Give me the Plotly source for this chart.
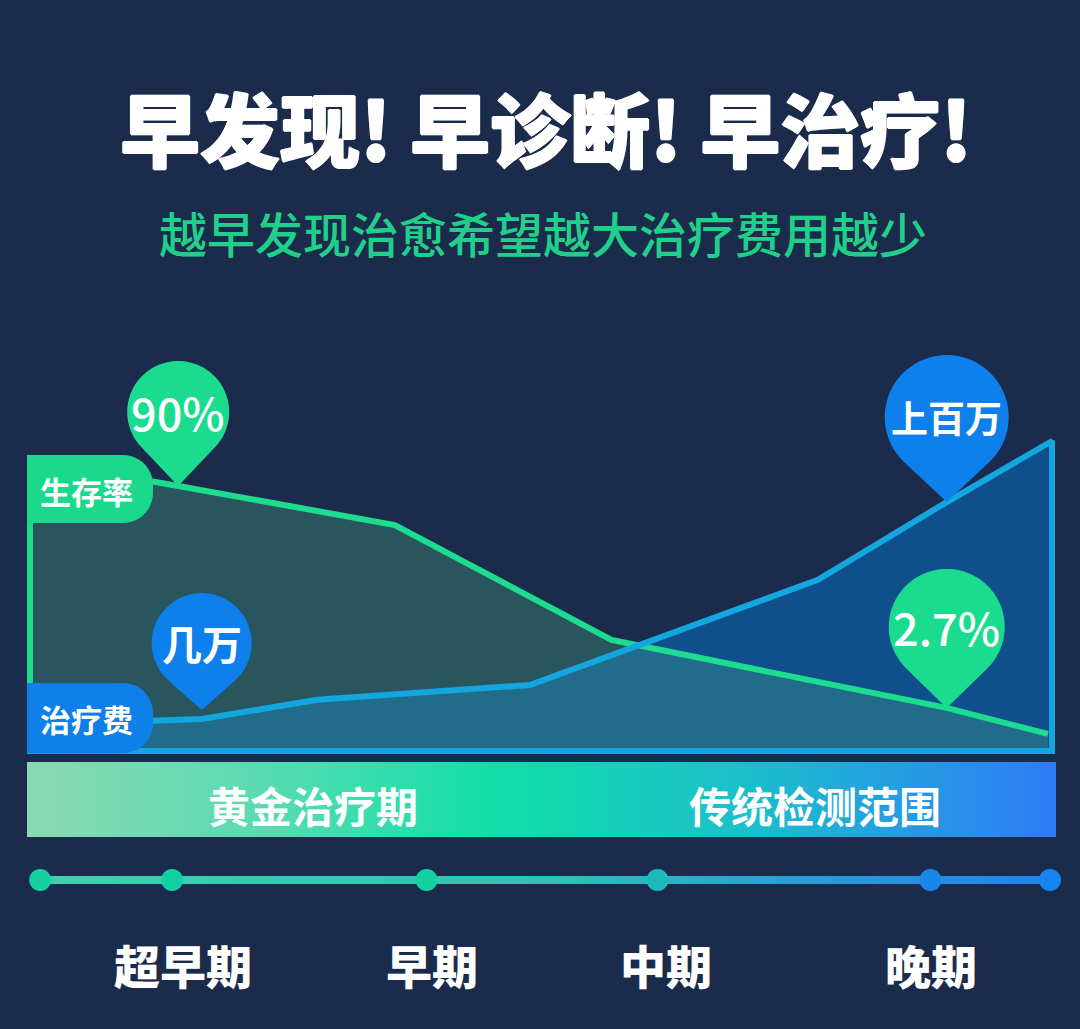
import numpy as np
import plotly.graph_objects as go

W, H = 1080, 1029
BG = "#1b2b4b"
FONT = "Noto Sans CJK SC, Noto Sans, sans-serif"

# ---------------- data (chart units) ----------------
title_text = "早发现! 早诊断! 早治疗!"
subtitle_text = "越早发现治愈希望越大治疗费用越少"

survival_label = "生存率"
survival_x = [0, 14.5, 35.7, 56.9, 89.7, 99.6]
survival_y = [93.9, 85.5, 72.9, 35.8, 13.9, 5.5]

cost_label = "治疗费"
cost_x = [0, 16.8, 28.1, 48.9, 77.1, 89.7, 100]
cost_y = [8.4, 10.3, 16.5, 21.3, 55.2, 80.3, 100]

callout_series = ["survival", "cost", "cost", "survival"]
callout_index = [1, 1, 5, 4]
callout_text = ["90%", "几万", "上百万", "2.7%"]

band_labels = ["黄金治疗期", "传统检测范围"]
band_label_x = [27.7, 76.8]

timeline_x = [1.0, 13.9, 38.8, 61.4, 88.1, 99.8]
stage_labels = ["超早期", "早期", "中期", "晚期"]
stage_label_x = [15.0, 39.3, 62.2, 88.2]

# ---------------- layout / style constants ----------------
X0_PX, PX_X = 30.0, 10.22   # x=0 at 30px, 10.22 px per unit
Y0_PX, PX_Y = 751.0, 3.1    # y=0 at 751px, 3.1 px per unit


def xd(px):
    return (px - X0_PX) / PX_X


def yd(py):
    return (Y0_PX - py) / PX_Y


def xpx(x):
    return X0_PX + x * PX_X


def ypx(y):
    return Y0_PX - y * PX_Y


def ppy(py):
    return 1 - py / H


GREEN_LINE = "#1ddc90"
BLUE_LINE = "#13a6df"
GREEN_PIN = "#1bdc8e"
BLUE_PIN = "#0e80eb"
HEAVY = "1px 0 0 white, -1px 0 0 white, 0 1px 0 white, 0 -1px 0 white"

fig = go.Figure()

# blue area fill
fig.add_trace(go.Scatter(
    x=cost_x + [cost_x[-1], cost_x[0]], y=cost_y + [0, 0],
    mode="lines", fill="toself", fillcolor="rgb(14,79,140)",
    line=dict(width=0, color="rgba(0,0,0,0)"), hoverinfo="skip", showlegend=False))
# green area fill
fig.add_trace(go.Scatter(
    x=survival_x + [survival_x[-1], survival_x[0]], y=survival_y + [0, 0],
    mode="lines", fill="toself", fillcolor="rgba(70,163,135,0.35)",
    line=dict(width=0, color="rgba(0,0,0,0)"), hoverinfo="skip", showlegend=False))
# green outline (incl. left edge)
fig.add_trace(go.Scatter(
    x=[survival_x[0]] + survival_x, y=[0] + survival_y,
    mode="lines", line=dict(width=6, color=GREEN_LINE),
    hoverinfo="skip", showlegend=False))
# blue outline (curve, right edge, baseline)
fig.add_trace(go.Scatter(
    x=cost_x + [cost_x[-1], cost_x[0] - 0.3], y=cost_y + [0, 0],
    mode="lines", line=dict(width=6, color=BLUE_LINE),
    hoverinfo="skip", showlegend=False))

# gradient band
nb = 240
bx = np.linspace(xd(27), xd(1056), nb + 1)
bz = np.tile(np.linspace(0, 1, nb), (2, 1))
fig.add_trace(go.Heatmap(
    x=bx, y=[yd(837), yd(800), yd(762)], z=bz, zsmooth="best",
    colorscale=[[0, "#8ad8b4"], [0.22, "#5adbb2"], [0.45, "#12dfa8"],
                [0.7, "#1bbfcc"], [1, "#2e7bf6"]],
    showscale=False, hoverinfo="skip"))

# timeline strip
tx = np.linspace(timeline_x[0], timeline_x[-1], nb + 1)
fig.add_trace(go.Heatmap(
    x=tx, y=[yd(884), yd(880), yd(876)], z=bz, zsmooth="best",
    colorscale=[[0, "#3fcfae"], [0.5, "#2ec3b4"], [0.75, "#2a9fd8"], [1, "#1f84ee"]],
    showscale=False, hoverinfo="skip"))
dot_colors = ["#14d0a0", "#14d0a0", "#16cfa2", "#1cb9bd", "#1a86ea", "#1685f2"]
fig.add_trace(go.Scatter(
    x=timeline_x, y=[yd(880)] * len(timeline_x), mode="markers",
    marker=dict(size=22, color=dot_colors, line=dict(width=0)),
    hoverinfo="skip", showlegend=False))

shapes = []
annotations = []


def add_text(x, y, text, size, weight="normal", color="white", xref="x", shadow=None):
    f = dict(family=FONT, size=size, color=color, weight=weight)
    if shadow:
        f["shadow"] = shadow
    annotations.append(dict(x=x, y=y, xref=xref, yref="paper", text=text, showarrow=False,
                            xanchor="center", yanchor="middle", font=f))


def path_from_px(points):
    s = "M " + " L ".join(f"{xd(px):.4f},{yd(py):.4f}" for px, py in points) + " Z"
    return s


def pill(top, bottom, left=27, right=153, rad=30, color="#000"):
    pts = [(left, top), (right - rad, top)]
    for a in np.linspace(-np.pi / 2, 0, 12):
        pts.append((right - rad + rad * np.cos(a), top + rad + rad * np.sin(a)))
    for a in np.linspace(0, np.pi / 2, 12):
        pts.append((right - rad + rad * np.cos(a), bottom - rad + rad * np.sin(a)))
    pts.append((left, bottom))
    shapes.append(dict(type="path", path=path_from_px(pts), fillcolor=color,
                       line=dict(width=0), layer="above"))


pill(455, 523, color="#1bd98c")
pill(683, 753, color="#0f80ea")
add_text(xd(86), ppy(490), survival_label, 31, "bold")
add_text(xd(86), ppy(718), cost_label, 31, "bold")

# callout pins
pin_r = [51, 50, 62, 58]
pin_d = [74, 67, 85, 81]
pin_lift = [0, 9, 0, 0]
pin_font = [45, 40, 37, 45]
pin_weight = [500, "bold", "bold", 500]
for k in range(len(callout_text)):
    if callout_series[k] == "survival":
        X, Y, col = survival_x[callout_index[k]], survival_y[callout_index[k]], GREEN_PIN
    else:
        X, Y, col = cost_x[callout_index[k]], cost_y[callout_index[k]], BLUE_PIN
    tipx, tipy = xpx(X), ypx(Y) - pin_lift[k]
    r, d = pin_r[k], pin_d[k]
    cx, cy = tipx, tipy - d
    phi = np.arccos(r / d)
    pts = [(tipx, tipy)]
    for th in np.linspace(phi, 2 * np.pi - phi, 60):
        pts.append((cx + r * np.sin(th), cy + r * np.cos(th)))
    shapes.append(dict(type="path", path=path_from_px(pts), fillcolor=col,
                       line=dict(width=0), layer="above"))
    add_text(xd(cx), ppy(cy), callout_text[k], pin_font[k], pin_weight[k])

# title / subtitle
add_text(546 / W, ppy(126), title_text, 80, 900, xref="paper", shadow=HEAVY)
add_text(543 / W, ppy(232), subtitle_text, 48, 500, color="#20d08a", xref="paper")

for lab, x in zip(band_labels, band_label_x):
    add_text(x, ppy(804), lab, 42, "bold")

for lab, x in zip(stage_labels, stage_label_x):
    add_text(x, ppy(964), lab, 46, 900)

fig.update_layout(
    width=W, height=H, margin=dict(l=0, r=0, t=0, b=0),
    paper_bgcolor=BG, plot_bgcolor=BG, showlegend=False,
    xaxis=dict(range=[xd(0), xd(W)], domain=[0, 1], visible=False, fixedrange=True),
    yaxis=dict(range=[yd(H), yd(0)], domain=[0, 1], visible=False, fixedrange=True),
    shapes=shapes, annotations=annotations,
)

fig.write_html("out.html")
